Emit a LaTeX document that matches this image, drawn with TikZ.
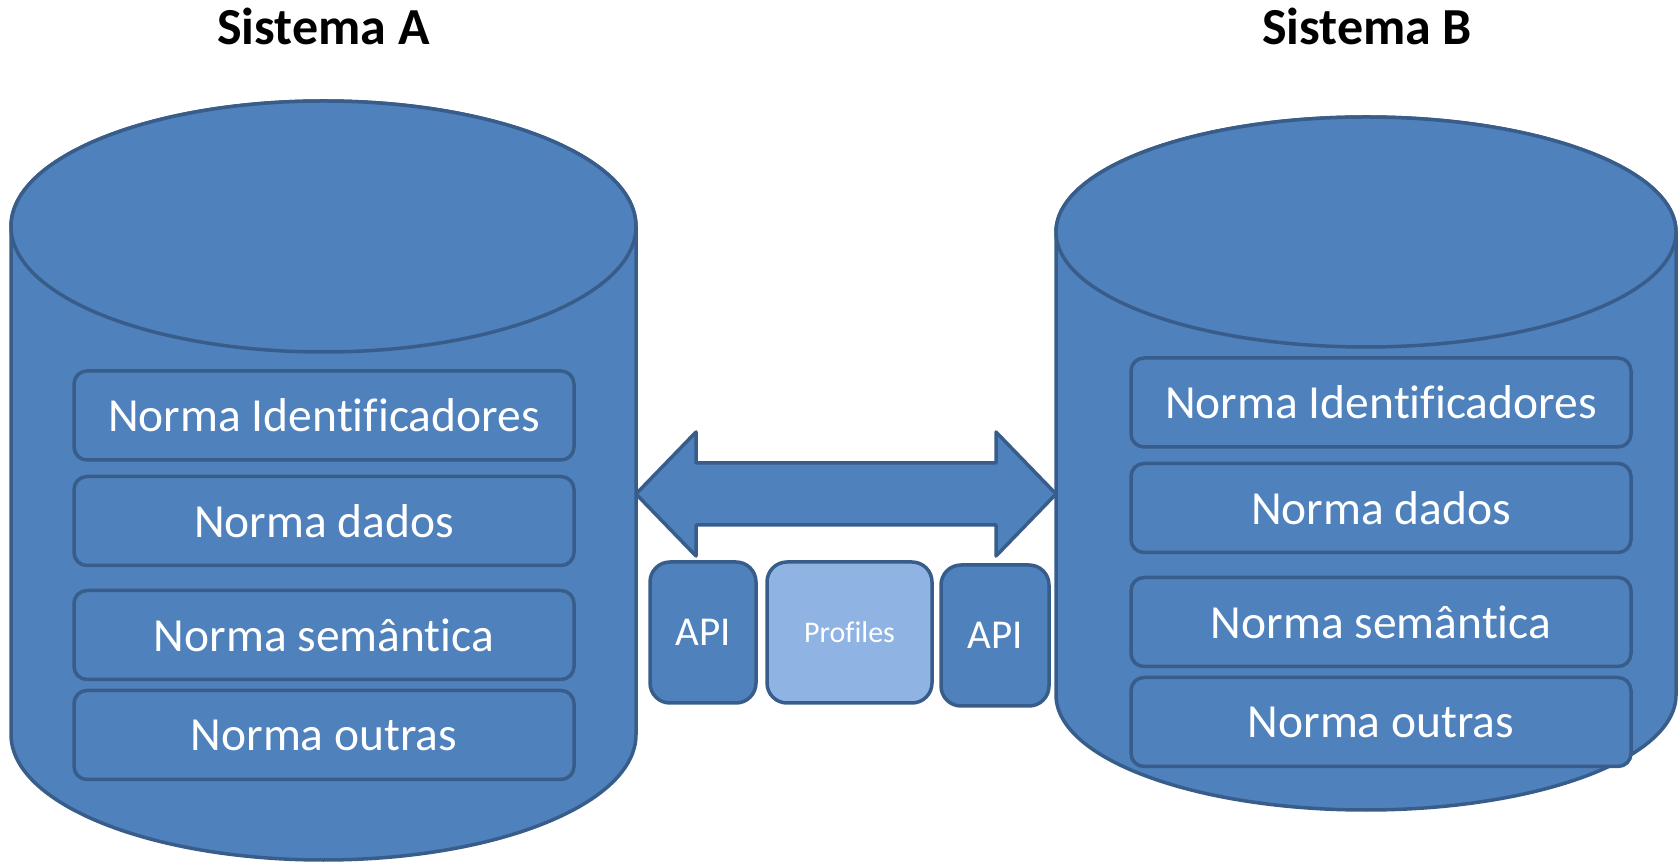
\documentclass[tikz,border=0pt]{standalone}
\usepackage{fontspec}
\setmainfont{Carlito}[Ligatures={NoCommon}]
\usetikzlibrary{positioning}
\definecolor{sysFill}{RGB}{79, 129, 189}
\definecolor{sysLine}{RGB}{56, 93, 138}
\definecolor{profFill}{RGB}{143, 179, 226}

\tikzset{
  sysbody/.style={draw=sysLine, fill=sysFill, line width=3.5pt},
  norma/.style={draw=sysLine, fill=sysFill, line width=3.5pt, rounded corners=13pt,
    minimum width=500pt, minimum height=89pt, inner sep=0pt, text=white,
    font=\fontsize{47.5}{50}\selectfont},
  apibox/.style={draw=sysLine, fill=sysFill, line width=3.5pt, rounded corners=20pt,
    minimum width=106pt, minimum height=141pt, inner sep=0pt, text=white,
    font=\fontsize{41}{44}\selectfont},
  systitle/.style={anchor=base, font=\fontsize{52}{56}\selectfont\bfseries}
}

\begin{document}
\begin{tikzpicture}[x=1pt,y=1pt]
\useasboundingbox (0,0) rectangle (1678,862);

% Sistema A
\node[systitle] (titleA) at (323.5,817) {Sistema A};
\draw[sysbody] (11,635.5) -- (11,127.5)
  arc[start angle=180, end angle=360, x radius=312.5, y radius=125.5]
  -- (636,635.5) arc[start angle=0, end angle=180, x radius=312.5, y radius=125.5] -- cycle;
\draw[sysbody] (323.5,635.5) ellipse[x radius=312.5, y radius=125.5];
\coordinate (tipA) at (636,368);
\foreach \yy/\txt [count=\i] in {446.5/Norma Identificadores, 341/Norma dados,
    227/Norma semântica, 127/Norma outras} {
  \node[norma] (A\i) at (324,\yy) {\txt};
}

% Sistema B
\node[systitle] (titleB) at (1367,817) {Sistema B};
\draw[sysbody] (1056,630) -- (1056,167)
  arc[start angle=180, end angle=360, x radius=310, y radius=115]
  -- (1676,630) arc[start angle=0, end angle=180, x radius=310, y radius=115] -- cycle;
\draw[sysbody] (1366,630) ellipse[x radius=310, y radius=115];
\coordinate (tipB) at (1056,368);
\foreach \yy/\txt [count=\i] in {459.5/Norma Identificadores, 354/Norma dados,
    240/Norma semântica, 140/Norma outras} {
  \node[norma] (B\i) at (1381,\yy) {\txt};
}

% ligacao
\draw[sysbody, line join=round] (tipA) -- ++(60,62) -- ++(0,-31)
  -- ([xshift=-60pt,yshift=31pt]tipB) -- ++(0,31) -- (tipB)
  -- ++(-60,-62) -- ++(0,31) -- ([xshift=60pt,yshift=-31pt]tipA)
  -- ++(0,-31) -- cycle;

\node[apibox] (apiA) at (703,229.5) {API};
\node[apibox, fill=profFill, minimum width=165pt, font=\fontsize{30}{32}\selectfont]
  (profiles) at (849.5,229.5) {Profiles};
\node[apibox, minimum width=108pt] (apiB) at (995,226.5) {API};
\end{tikzpicture}
\end{document}
